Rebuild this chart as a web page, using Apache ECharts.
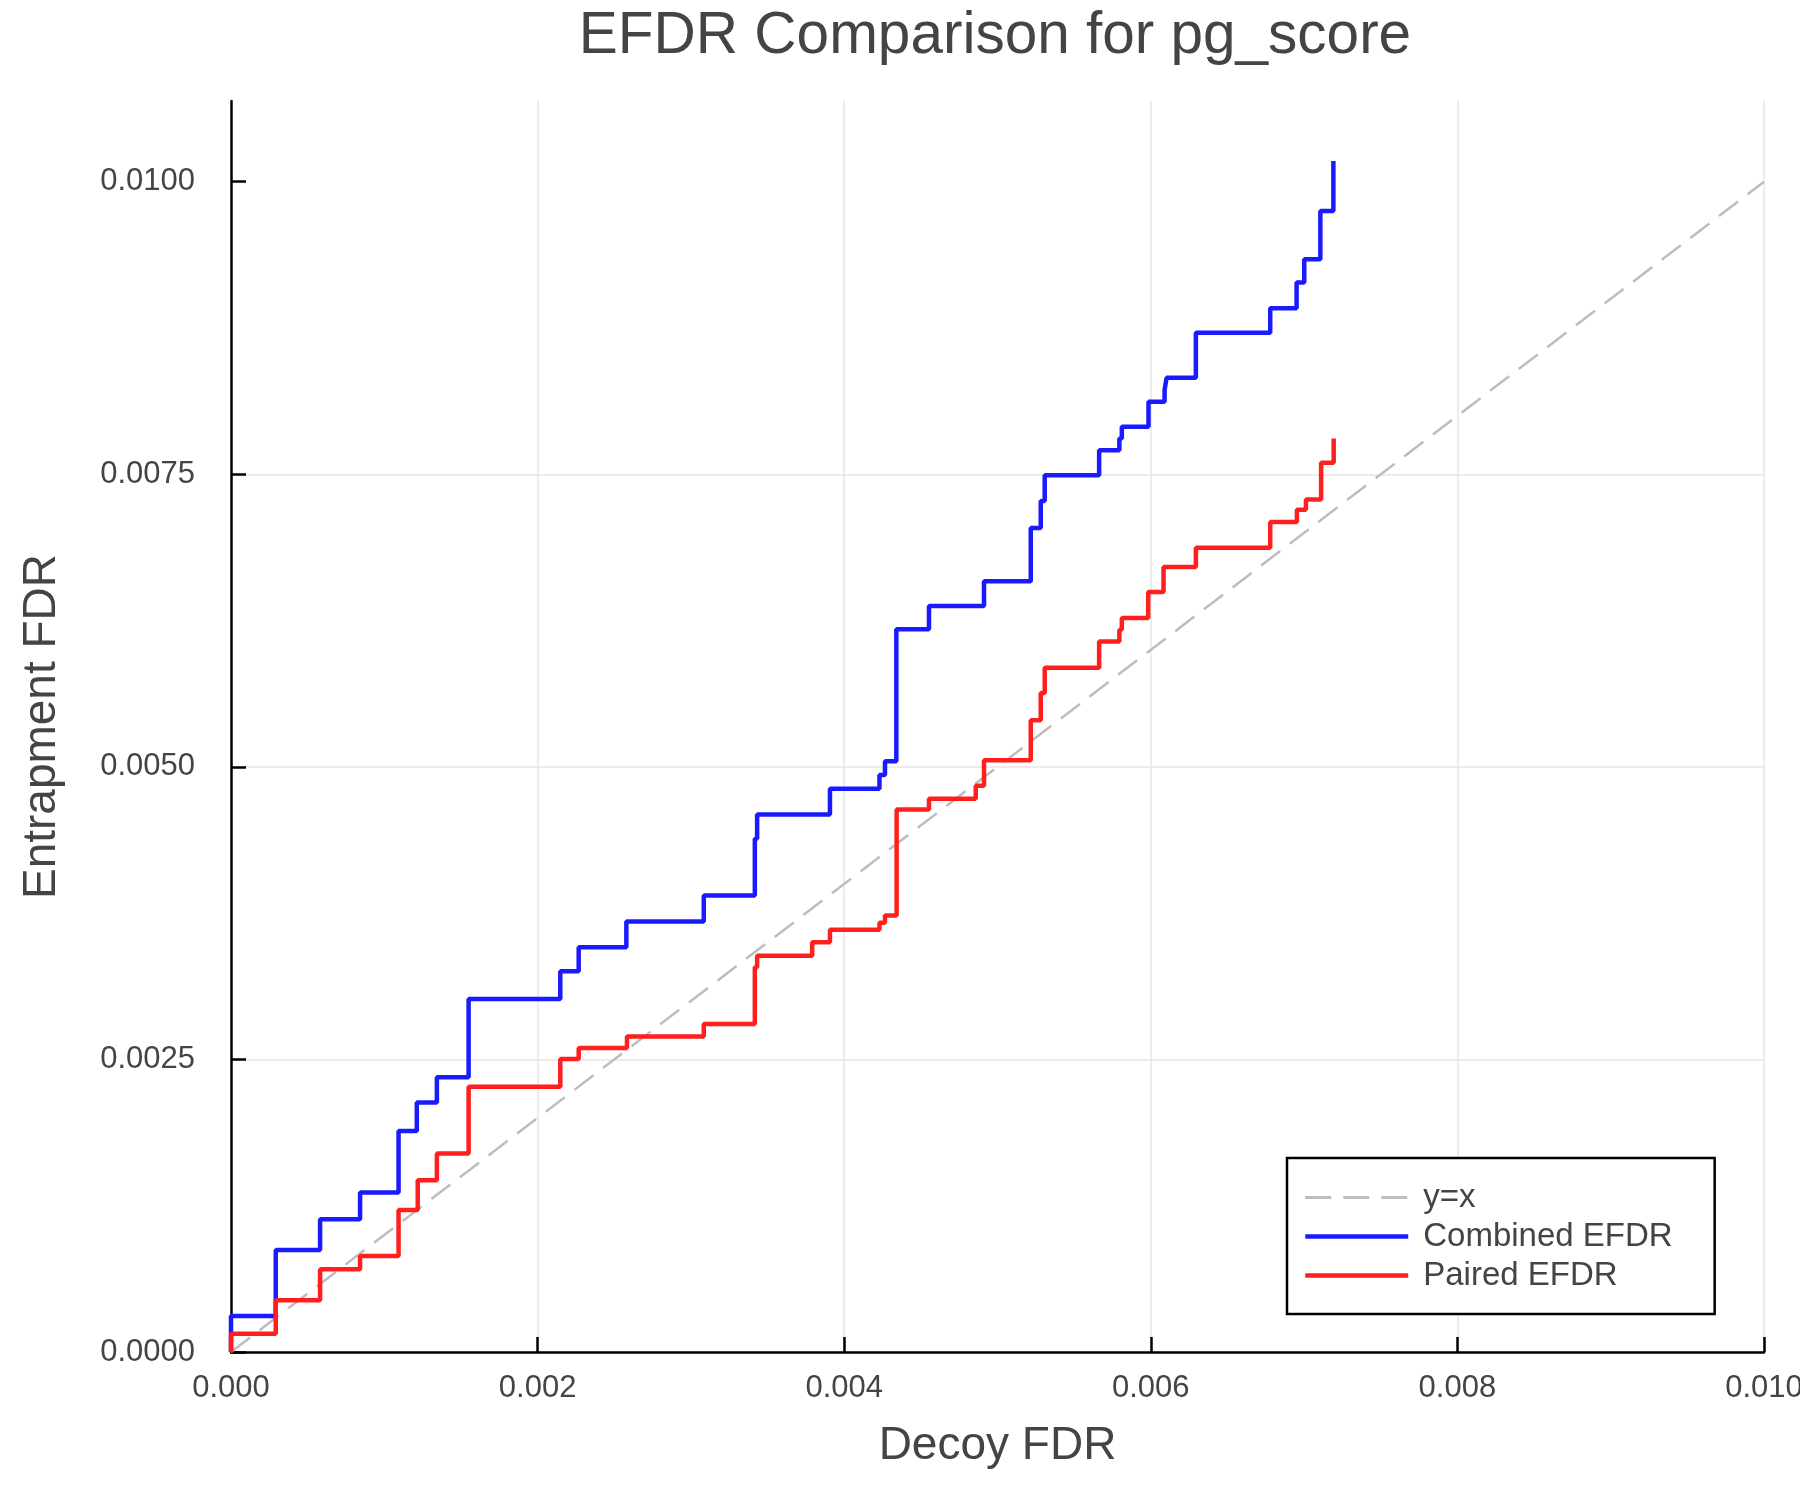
<!DOCTYPE html>
<html>
<head>
<meta charset="utf-8">
<title>EFDR Comparison for pg_score</title>
<script src="https://cdn.jsdelivr.net/npm/echarts@6/dist/echarts.min.js"></script>
<style>
  html, body { margin: 0; padding: 0; background: #fff; }
  #chart { width: 1800px; height: 1500px; }
</style>
</head>
<body>
<div id="chart"></div>
<script>
// step points: decoy FDR where the curve jumps, entrapment FDR after the jump
const combinedX = [0, 0, 0.000292, 0.000581, 0.000842, 0.001093, 0.001212, 0.001343, 0.00155,
  0.002148, 0.002268, 0.002579, 0.003084, 0.003417, 0.003432, 0.003907, 0.00423, 0.004266,
  0.00434, 0.004553, 0.004912, 0.005217, 0.005282, 0.005308, 0.005663, 0.005795, 0.005811,
  0.005985, 0.00609, 0.006103, 0.006294, 0.006779, 0.006951, 0.007001, 0.007106, 0.007191];
const combinedY = [0, 0.000308, 0.000872, 0.001135, 0.001363, 0.001888, 0.002133, 0.002347, 0.003017,
  0.003253, 0.003458, 0.003678, 0.0039, 0.004385, 0.004593, 0.004812, 0.00493, 0.005048,
  0.006175, 0.006375, 0.006586, 0.007042, 0.007273, 0.007493, 0.007706, 0.007806, 0.007906,
  0.008119, 0.008222, 0.008325, 0.00871, 0.008918, 0.00914, 0.009337, 0.00975, 0.010178];

const pairedX = [0, 0, 0.000292, 0.000581, 0.000842, 0.001093, 0.001218, 0.001343, 0.00155,
  0.002148, 0.002268, 0.002583, 0.003084, 0.003417, 0.003432, 0.003791, 0.003907, 0.00423,
  0.004266, 0.004342, 0.004553, 0.004858, 0.004912, 0.005217, 0.005282, 0.005308, 0.005663,
  0.005795, 0.005811, 0.005983, 0.006083, 0.006294, 0.006779, 0.006953, 0.007012, 0.007111, 0.007193];
const pairedY = [0, 0.000157, 0.000442, 0.000707, 0.000821, 0.001214, 0.001468, 0.001696, 0.002267,
  0.002503, 0.002597, 0.002697, 0.002803, 0.003287, 0.003387, 0.003501, 0.003609, 0.003669,
  0.003729, 0.004636, 0.004727, 0.004838, 0.005056, 0.005398, 0.005632, 0.005848, 0.006072,
  0.006172, 0.006272, 0.006495, 0.006708, 0.006873, 0.007092, 0.007198, 0.007284, 0.007598, 0.007806];

const diagX = [0, 0.01];
const diagY = [0, 0.01];

const xTicks = [0, 0.002, 0.004, 0.006, 0.008, 0.01];
const yTicks = [0, 0.0025, 0.005, 0.0075, 0.01];

const zip = (xs, ys) => xs.map((x, i) => [x, ys[i]]);

const textColor = '#444';
const font = '"Liberation Sans", Arial, Helvetica, sans-serif';
const blue = '#1a1aff';
const red = '#ff1f1f';
const gray = '#bdbdbd';

const chart = echarts.init(document.getElementById('chart'));
chart.setOption({
  animation: false,
  backgroundColor: '#fff',
  textStyle: { fontFamily: font },
  title: {
    text: 'EFDR Comparison for pg_score',
    left: 990,
    top: 2,
    textAlign: 'center',
    textStyle: { fontSize: 58.5, fontWeight: 'normal', color: textColor, fontFamily: font }
  },
  // outerBoundsMode none: keep the plot box fixed even if the last x label runs off the edge
  grid: { left: 231, right: 36, top: 101, bottom: 148, containLabel: false, outerBoundsMode: 'none' },
  xAxis: {
    type: 'value',
    min: 0,
    max: 0.01,
    interval: 0.002,
    name: 'Decoy FDR',
    nameLocation: 'middle',
    nameGap: 71,
    nameTextStyle: { fontSize: 46, color: textColor, fontFamily: font },
    axisLine: { show: true, onZero: false, lineStyle: { color: '#000', width: 2.5 } },
    axisTick: { show: true, inside: true, length: 15, lineStyle: { color: '#000', width: 2.5 }, customValues: xTicks },
    axisLabel: { fontSize: 31, color: textColor, margin: 21, customValues: xTicks,
      formatter: v => v.toFixed(3) },
    splitLine: { show: true, showMinLine: false, lineStyle: { color: '#e6e6e6', width: 1.5 } }
  },
  yAxis: {
    type: 'value',
    min: 0,
    max: 0.01069,
    interval: 0.0025,
    name: 'Entrapment FDR',
    nameLocation: 'middle',
    nameGap: 166,
    nameTextStyle: { fontSize: 46, color: textColor, fontFamily: font },
    axisLine: { show: true, onZero: false, lineStyle: { color: '#000', width: 2.5 } },
    axisTick: { show: true, inside: true, length: 15, lineStyle: { color: '#000', width: 2.5 }, customValues: yTicks },
    axisLabel: { fontSize: 31, color: textColor, margin: 36, customValues: yTicks,
      formatter: v => v.toFixed(4) },
    splitLine: { show: true, showMinLine: false, showMaxLine: false, lineStyle: { color: '#e6e6e6', width: 1.5 } }
  },
  legend: {
    orient: 'vertical',
    left: 1287,
    top: 1158,
    padding: [23, 42, 22, 16],
    itemWidth: 103,
    itemHeight: 14,
    itemGap: 6,
    borderColor: '#000',
    borderWidth: 2.5,
    borderRadius: 0,
    backgroundColor: '#fff',
    itemStyle: { opacity: 0 },
    textStyle: { fontSize: 33, color: textColor, lineHeight: 32, padding: [0, 0, 0, 10], fontFamily: font },
    data: [
      { name: 'y=x', lineStyle: { color: gray, width: 3, type: [26, 12] } },
      { name: 'Combined EFDR', lineStyle: { color: blue, width: 4.5 } },
      { name: 'Paired EFDR', lineStyle: { color: red, width: 4.5 } }
    ]
  },
  series: [
    {
      name: 'y=x',
      type: 'line',
      data: zip(diagX, diagY),
      showSymbol: false,
      symbol: 'none',
      color: gray,
      lineStyle: { color: gray, width: 2.5, type: [24, 12] },
      z: 1
    },
    {
      name: 'Combined EFDR',
      type: 'line',
      step: 'end',
      data: zip(combinedX, combinedY),
      showSymbol: false,
      symbol: 'none',
      color: blue,
      lineStyle: { color: blue, width: 4.5 },
      z: 2
    },
    {
      name: 'Paired EFDR',
      type: 'line',
      step: 'end',
      data: zip(pairedX, pairedY),
      showSymbol: false,
      symbol: 'none',
      color: red,
      lineStyle: { color: red, width: 4.5 },
      z: 3
    }
  ]
});
</script>
</body>
</html>
